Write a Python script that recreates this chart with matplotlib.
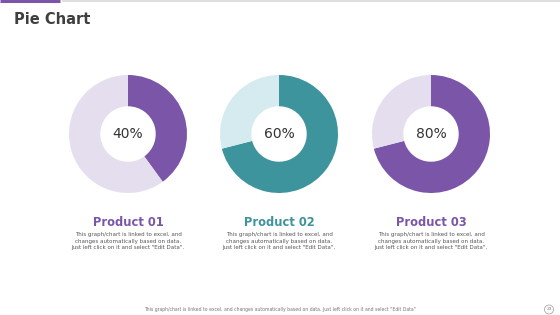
import matplotlib.pyplot as plt
from matplotlib.patches import Circle

# filled share of each ring as drawn, and the text in the middle
products = ['Product 01', 'Product 02', 'Product 03']
filled = [0.40, 0.71, 0.71]
center_labels = ['40%', '60%', '80%']
main_colors = ['#7B55A8', '#3D949C', '#7B55A8']
rest_colors = ['#E4DEEE', '#D6EBEF', '#E4DEEE']
title_colors = ['#7B55A8', '#3D949C', '#7B55A8']
desc = ('This graph/chart is linked to excel, and\n'
        'changes automatically based on data.\n'
        'Just left click on it and select "Edit Data".')
footer = ('This graph/chart is linked to excel, and changes automatically '
          'based on data. Just left click on it and select "Edit Data"')

W, H = 560, 315
fig = plt.figure(figsize=(W / 100, H / 100), dpi=100)
fig.patch.set_facecolor('white')

# top rule
bg = fig.add_axes([0, 0, 1, 1])
bg.set_xlim(0, W)
bg.set_ylim(H, 0)
bg.axis('off')
bg.plot([0, 60], [0.8, 0.8], color='#7B55A8', lw=2.2, solid_capstyle='butt')
bg.plot([62, W], [0.8, 0.8], color='#D9D9D9', lw=1.2, solid_capstyle='butt')

bg.text(14, 20, 'Pie Chart', fontsize=10.5, fontweight='bold',
        color='#3F3F3F', va='center', ha='left')

centers_x = [128, 279, 431]
cy = 134
radius = 59

for i in range(3):
    ax = fig.add_axes([(centers_x[i] - radius) / W, (H - cy - radius) / H,
                       2 * radius / W, 2 * radius / H])
    ax.pie([filled[i], 1 - filled[i]], colors=[main_colors[i], rest_colors[i]],
           startangle=90, counterclock=False, radius=1,
           wedgeprops=dict(width=0.53, linewidth=0))
    ax.set_xlim(-1, 1)
    ax.set_ylim(-1, 1)
    ax.set_aspect('auto')
    ax.text(0, 0, center_labels[i], ha='center', va='center',
            fontsize=10, color='#333333', fontweight='medium')

    bg.text(centers_x[i], 222, products[i], ha='center', va='center',
            fontsize=8.3, fontweight='bold', color=title_colors[i])
    bg.text(centers_x[i], 241, desc, ha='center', va='center',
            fontsize=4.0, color='#555555', linespacing=1.3)

bg.text(280, 309.5, footer, ha='center', va='center', fontsize=3.3,
        color='#777777')
bg.add_patch(Circle((549, 309.5), 4.5, fill=False, ec='#999999', lw=0.5))
bg.text(549, 309.5, '23', ha='center', va='center', fontsize=3.2,
        color='#777777')

fig.savefig('out.png', dpi=100, facecolor='white')
